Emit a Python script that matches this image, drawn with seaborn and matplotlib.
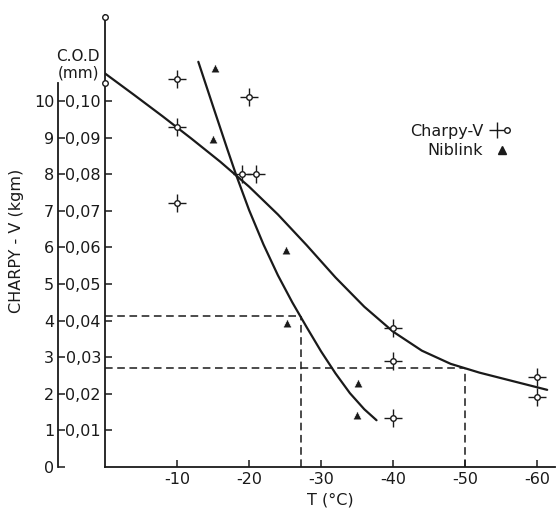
import matplotlib
matplotlib.use("Agg")
from matplotlib import pyplot as plt
from matplotlib.legend_handler import HandlerTuple
from matplotlib.lines import Line2D
import pandas as pd
import seaborn as sns

# Charpy-V points (T in degC, C.O.D in mm)
charpy_t = [-10, -10, -10, -20, -19, -21, -40, -40, -40, -60, -60]
charpy_v = [0.106, 0.093, 0.072, 0.101, 0.080, 0.080, 0.038, 0.029, 0.0134, 0.0246, 0.0191]

# open marks sitting on the C.O.D axis
axis_t = [0, 0]
axis_v = [0.123, 0.105]

# Niblink points
niblink_t = [-15.3, -15, -25.1, -25.2, -35.1, -35]
niblink_v = [0.109, 0.0896, 0.0593, 0.0393, 0.023, 0.0142]

# fitted curves
charpy_curve_t = [0, -4, -8, -12, -16, -20, -24, -28, -32, -36, -40, -44, -48, -52, -56, -61.4]
charpy_curve_v = [0.1075, 0.1017, 0.0958, 0.0897, 0.0834, 0.0766, 0.0690, 0.0606, 0.0518, 0.0438,
                  0.0370, 0.0318, 0.0282, 0.0258, 0.0238, 0.0211]
niblink_curve_t = [-12.95, -15, -17, -18.2, -20, -22, -24, -26, -28, -30, -32, -34, -36, -37.7]
niblink_curve_v = [0.1107, 0.0985, 0.0867, 0.0798, 0.0702, 0.0608, 0.0524, 0.0450, 0.0382,
                   0.0316, 0.0256, 0.0202, 0.0158, 0.0128]

# transition temperatures (dashed guides)
guide_t = [-27.2, -50]
guide_v = [0.0413, 0.027]

x_ticks = [-10, -20, -30, -40, -50, -60]
cod_ticks = [0.01, 0.02, 0.03, 0.04, 0.05, 0.06, 0.07, 0.08, 0.09, 0.10]
kgm_ticks = [0, 1, 2, 3, 4, 5, 6, 7, 8, 9, 10]

sns.set_style("ticks")
plt.rcParams['font.family'] = ['DejaVu Sans']
ink = "#1a1a1a"

fig = plt.figure(figsize=(5.59, 5.15), dpi=100)
ax = fig.add_axes([0.188, 0.093, 0.805, 0.878])

df_cc = pd.DataFrame({'T': charpy_curve_t, 'v': charpy_curve_v})
df_nc = pd.DataFrame({'T': niblink_curve_t, 'v': niblink_curve_v})
sns.lineplot(data=df_cc, x='T', y='v', color=ink, lw=1.6, sort=False, ax=ax)
sns.lineplot(data=df_nc, x='T', y='v', color=ink, lw=1.6, sort=False, ax=ax)

# dashed guides
for t, v in zip(guide_t, guide_v):
    ax.plot([0, t], [v, v], ls=(0, (5, 3)), color=ink, lw=1.1)
    ax.plot([t, t], [0, v], ls=(0, (5, 3)), color=ink, lw=1.1)

# Charpy-V markers: thin cross with small open centre
df_c = pd.DataFrame({'T': charpy_t, 'v': charpy_v})
sns.scatterplot(data=df_c, x='T', y='v', marker='+', s=150, color=ink, linewidth=1.0, ax=ax, zorder=4)
sns.scatterplot(data=df_c, x='T', y='v', marker='o', s=16, facecolor='white', edgecolor=ink,
                linewidth=1.0, ax=ax, zorder=5)
ax.scatter(axis_t, axis_v, marker='o', s=16, facecolor='white', edgecolor=ink, linewidth=1.0,
           zorder=5, clip_on=False)

df_n = pd.DataFrame({'T': niblink_t, 'v': niblink_v})
sns.scatterplot(data=df_n, x='T', y='v', marker='^', s=40, color=ink, ax=ax, zorder=4)

ax.set_xlim(0, -62.5)
ax.set_ylim(0, 0.1235)
sns.despine(ax=ax)
for s in ['left', 'bottom']:
    ax.spines[s].set_linewidth(1.3)
    ax.spines[s].set_color(ink)

ax.set_xticks(x_ticks)
ax.set_xticklabels([str(t) for t in x_ticks])
ax.set_yticks(cod_ticks)
ax.set_yticklabels([f"{v:.2f}".replace('.', ',') for v in cod_ticks])
ax.tick_params(direction='in', length=5, width=1.1, labelsize=11.5, colors=ink)
ax.tick_params(axis='y', pad=3)
ax.set_xlabel('T (°C)', fontsize=11.5, color=ink, labelpad=4)
ax.set_ylabel('')

# outer Charpy-V energy axis
sec = ax.secondary_yaxis(-0.104, functions=(lambda v: v * 100, lambda v: v / 100))
sec.set_yticks(kgm_ticks)
sec.set_yticklabels([str(k) for k in kgm_ticks])
sec.tick_params(direction='in', length=5, width=1.1, labelsize=11.5, colors=ink, pad=3)
sec.spines['left'].set_bounds(0, 10.5)
sec.spines['left'].set_linewidth(1.3)
sec.spines['left'].set_color(ink)
sec.set_ylabel('CHARPY - V (kgm)', fontsize=11.5, color=ink, labelpad=7)

fig.text(100 / 559, 1 - 65 / 515, 'C.O.D\n(mm)', ha='right', va='center', fontsize=11,
         color=ink, multialignment='center', linespacing=1.1)

# legend: text first, marker after
h_charpy = (Line2D([], [], marker='+', ms=11, mew=1.0, color=ink, ls=''),
            Line2D([], [], marker='o', ms=4, mfc='white', mec=ink, mew=1.0, ls=''))
h_nib = Line2D([], [], marker='^', ms=6, color=ink, ls='')
ax.legend([h_charpy, h_nib], ['Charpy-V', 'Niblink'], handler_map={tuple: HandlerTuple(ndivide=None, pad=0)},
          loc='center left', bbox_to_anchor=(0.645, 0.721), frameon=False, markerfirst=False,
          fontsize=11.5, handlelength=1.2, handletextpad=0.6, labelspacing=0.3, labelcolor=ink)

plt.savefig('out.png', dpi=100)
